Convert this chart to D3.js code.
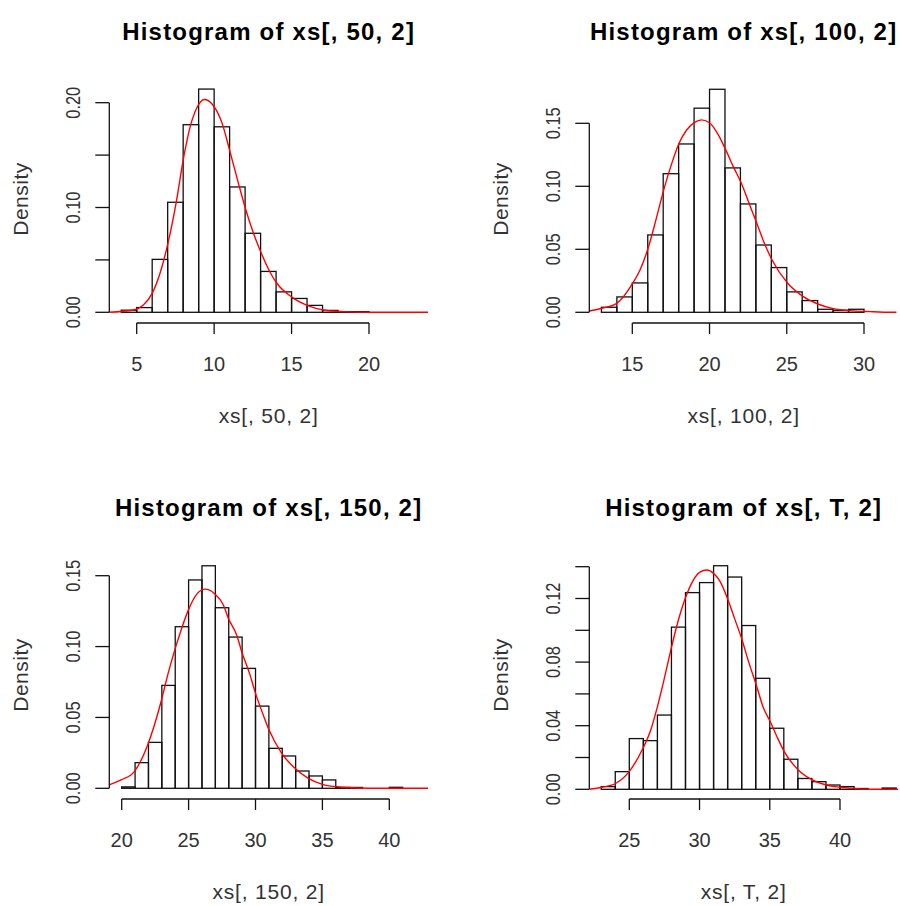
<!DOCTYPE html>
<html>
<head>
<meta charset="utf-8">
<script src="https://d3js.org/d3.v7.min.js"></script>
<style>
  body { margin: 0; background: #fff; }
  svg { display: block; font-family: "Liberation Sans", Arial, sans-serif; }
</style>
</head>
<body>
<svg id="chart" width="900" height="906"></svg>
<script>
// histogram breaks and densities
const breaks50 = [4, 5, 6, 7, 8, 9, 10, 11, 12, 13, 14, 15, 16, 17, 18, 19, 20];
const dens50 = [0.002, 0.0045, 0.0505, 0.105, 0.179, 0.213, 0.177, 0.1196, 0.0754, 0.039, 0.0195, 0.0132, 0.0066, 0.0018, 0.0006, 0.0006];

const breaks100 = [13, 14, 15, 16, 17, 18, 19, 20, 21, 22, 23, 24, 25, 26, 27, 28, 29, 30];
const dens100 = [0.004, 0.0122, 0.0233, 0.0614, 0.110, 0.1336, 0.162, 0.177, 0.1146, 0.086, 0.0534, 0.0355, 0.0162, 0.0093, 0.0024, 0.0016, 0.0024];

const breaks150 = [20, 21, 22, 23, 24, 25, 26, 27, 28, 29, 30, 31, 32, 33, 34, 35, 36, 37, 38, 39, 40, 41];
const dens150 = [0.001, 0.0181, 0.0324, 0.0726, 0.114, 0.147, 0.157, 0.1274, 0.1067, 0.0846, 0.058, 0.0282, 0.0228, 0.0122, 0.0087, 0.0059, 0.0006, 0.0006, 0, 0, 0.0007];

const breaksT = [23, 24, 25, 26, 27, 28, 29, 30, 31, 32, 33, 34, 35, 36, 37, 38, 39, 40, 41, 42, 43, 44];
const densT = [0.0017, 0.0111, 0.0319, 0.0306, 0.0467, 0.102, 0.1237, 0.130, 0.1406, 0.1335, 0.103, 0.0698, 0.0384, 0.0189, 0.0068, 0.0048, 0.0027, 0.0017, 0.0005, 0, 0.0008];

// red density curves [x, density]
const curve50 = [[3.23, 0], [4.78, 0.0022], [5.43, 0.007], [6.0, 0.018], [6.5, 0.037], [7.02, 0.066], [7.54, 0.104],
  [8.04, 0.1485], [8.45, 0.177], [8.88, 0.195], [9.37, 0.203], [9.85, 0.199], [10.5, 0.181], [11.03, 0.153],
  [11.57, 0.123], [12.05, 0.0976], [12.54, 0.0754], [13.05, 0.0563], [13.62, 0.038], [14.05, 0.0277],
  [15.04, 0.0143], [16.05, 0.0064], [17.06, 0.0022], [18.35, 0.0006], [19.97, 0], [23.9, 0]];

const curve100 = [[12.21, 0.001], [12.97, 0.003], [13.99, 0.0071], [15.0, 0.0225], [15.5, 0.0336], [16.02, 0.0508],
  [16.53, 0.0733], [17.03, 0.097], [17.55, 0.118], [18.02, 0.134], [18.52, 0.1447], [19.01, 0.1505], [19.49, 0.1527],
  [20.03, 0.150], [20.57, 0.1408], [21.05, 0.1289], [21.54, 0.1156], [22.06, 0.1024], [22.56, 0.0865], [23.06, 0.0706],
  [23.55, 0.0548], [24.05, 0.0415], [25.06, 0.023], [26.07, 0.0124], [27.05, 0.0064], [28.02, 0.0029], [29.1, 0.0013],
  [30.4, 0.0005], [31.8, 0], [32.1, 0]];

const curve150 = [[19.07, 0.0024], [19.95, 0.0059], [20.94, 0.0118], [21.94, 0.0306], [22.94, 0.0611], [23.44, 0.080],
  [23.93, 0.0964], [24.48, 0.1128], [24.98, 0.1257], [25.6, 0.1368], [26.23, 0.1405], [26.92, 0.1375], [27.6, 0.1293],
  [27.97, 0.1199], [28.6, 0.108], [28.97, 0.0964], [29.59, 0.080], [29.96, 0.0682], [30.58, 0.0517], [30.96, 0.0423],
  [31.96, 0.0247], [32.95, 0.0141], [33.95, 0.007], [35.0, 0.0028], [36.56, 0.0007], [38.5, 0], [42.9, 0]];

const curveT = [[22.17, 0], [23.05, 0.0013], [24.05, 0.0038], [24.99, 0.0111], [25.97, 0.0258], [26.49, 0.0363],
  [26.97, 0.0509], [27.44, 0.0677], [27.93, 0.0866], [28.46, 0.1054], [28.98, 0.120], [29.5, 0.1306], [30.0, 0.1364],
  [30.53, 0.1379], [31.0, 0.1358], [31.47, 0.1306], [31.99, 0.120], [32.49, 0.1075], [32.99, 0.095], [33.49, 0.0803],
  [34.04, 0.0656], [34.56, 0.0509], [35.04, 0.0425], [35.51, 0.0331], [36.03, 0.0237], [37.03, 0.0122], [38.03, 0.0059],
  [39.02, 0.0027], [40.02, 0.0013], [41.45, 0.0002], [42.5, 0], [44.3, 0]];

// axis ticks and labels
const xTicks50 = [5, 10, 15, 20];
const xTicks100 = [15, 20, 25, 30];
const xTicks150 = [20, 25, 30, 35, 40];
const xTicksT = [25, 30, 35, 40];
const yTicks50 = [0, 0.05, 0.10, 0.15, 0.20];
const yLabels50 = ['0.00', '', '0.10', '', '0.20'];
const yTicks100 = [0, 0.05, 0.10, 0.15];
const yLabels100 = ['0.00', '0.05', '0.10', '0.15'];
const yTicks150 = [0, 0.05, 0.10, 0.15];
const yLabels150 = ['0.00', '0.05', '0.10', '0.15'];
const yTicksT = [0, 0.02, 0.04, 0.06, 0.08, 0.10, 0.12, 0.14];
const yLabelsT = ['0.00', '', '0.04', '', '0.08', '', '0.12', ''];

const titles = ['Histogram of xs[, 50, 2]', 'Histogram of xs[, 100, 2]', 'Histogram of xs[, 150, 2]', 'Histogram of xs[, T, 2]'];
const xLabels = ['xs[, 50, 2]', 'xs[, 100, 2]', 'xs[, 150, 2]', 'xs[, T, 2]'];

// pixel frame of each panel (tick anchors measured on the reference)
const panels = [
  { breaks: breaks50, dens: dens50, curve: curve50, xTicks: xTicks50, yTicks: yTicks50, yLabels: yLabels50,
    xr: [136.7, 369], yd: [0, 0.20], yr: [312.3, 102.7], left: 109.3, right: 428, dy: 0 },
  { breaks: breaks100, dens: dens100, curve: curve100, xTicks: xTicks100, yTicks: yTicks100, yLabels: yLabels100,
    xr: [632.3, 864], yd: [0, 0.15], yr: [312.3, 123.3], left: 589.3, right: 898, dy: 0 },
  { breaks: breaks150, dens: dens150, curve: curve150, xTicks: xTicks150, yTicks: yTicks150, yLabels: yLabels150,
    xr: [121.7, 389.3], yd: [0, 0.15], yr: [788.3, 575.7], left: 109.3, right: 428, dy: 476 },
  { breaks: breaksT, dens: densT, curve: curveT, xTicks: xTicksT, yTicks: yTicksT, yLabels: yLabelsT,
    xr: [629.3, 840], yd: [0, 0.14], yr: [789.3, 566.7], left: 589.3, right: 898, dy: 476 }
];

const svg = d3.select('#chart');

panels.forEach((p, i) => {
  const g = svg.append('g');
  const x = d3.scaleLinear()
    .domain([p.xTicks[0], p.xTicks[p.xTicks.length - 1]])
    .range(p.xr);
  const y = d3.scaleLinear().domain(p.yd).range(p.yr);

  const axisY = 323 + p.dy;
  const cx = (p.left + p.right) / 2;

  // clip to plot region
  const clipId = 'clip' + i;
  svg.append('clipPath').attr('id', clipId)
    .append('rect')
    .attr('x', p.left).attr('y', p.dy)
    .attr('width', p.right - p.left).attr('height', axisY - 2 - p.dy);

  // bars
  const bins = p.dens.map((d, k) => ({ x0: p.breaks[k], x1: p.breaks[k + 1], d }));
  g.append('g')
    .selectAll('rect')
    .data(bins)
    .join('rect')
    .attr('x', d => x(d.x0))
    .attr('y', d => y(d.d))
    .attr('width', d => x(d.x1) - x(d.x0))
    .attr('height', d => y(0) - y(d.d))
    .attr('fill', 'none')
    .attr('stroke', '#111')
    .attr('stroke-width', 1.3);

  // density curve
  const line = d3.line().x(d => x(d[0])).y(d => y(d[1])).curve(d3.curveMonotoneX);
  g.append('path')
    .datum(p.curve)
    .attr('clip-path', `url(#${clipId})`)
    .attr('d', line)
    .attr('fill', 'none')
    .attr('stroke', '#ff0000')
    .attr('stroke-width', 1.4);

  // x axis
  const xa = g.append('g').attr('stroke', '#111').attr('stroke-width', 1.3);
  xa.append('line')
    .attr('x1', x(p.xTicks[0])).attr('x2', x(p.xTicks[p.xTicks.length - 1]))
    .attr('y1', axisY).attr('y2', axisY);
  xa.selectAll('.tick')
    .data(p.xTicks)
    .join('line')
    .attr('x1', d => x(d)).attr('x2', d => x(d))
    .attr('y1', axisY).attr('y2', axisY + 11);
  g.append('g')
    .selectAll('text')
    .data(p.xTicks)
    .join('text')
    .attr('x', d => x(d))
    .attr('y', 370.5 + p.dy)
    .attr('text-anchor', 'middle')
    .attr('font-size', 20)
    .attr('fill', '#333')
    .text(d => d);

  // y axis
  const ya = g.append('g').attr('stroke', '#111').attr('stroke-width', 1.3);
  ya.append('line')
    .attr('x1', p.left).attr('x2', p.left)
    .attr('y1', y(p.yTicks[0])).attr('y2', y(p.yTicks[p.yTicks.length - 1]));
  ya.selectAll('.tick')
    .data(p.yTicks)
    .join('line')
    .attr('x1', p.left - 14).attr('x2', p.left)
    .attr('y1', d => y(d)).attr('y2', d => y(d));
  g.append('g')
    .selectAll('text')
    .data(p.yTicks.map((t, k) => ({ t, label: p.yLabels[k] })).filter(d => d.label))
    .join('text')
    .attr('transform', d => `translate(${p.left - 29},${y(d.t)}) rotate(-90) scale(0.82,1)`)
    .attr('text-anchor', 'middle')
    .attr('font-size', 20)
    .attr('fill', '#333')
    .text(d => d.label);

  // titles and axis labels
  g.append('text')
    .attr('x', cx).attr('y', 40 + p.dy)
    .attr('text-anchor', 'middle')
    .attr('font-size', 24)
    .attr('font-weight', 'bold')
    .attr('letter-spacing', 1.2)
    .attr('fill', '#000')
    .text(titles[i]);

  g.append('text')
    .attr('x', cx).attr('y', 422.5 + p.dy)
    .attr('text-anchor', 'middle')
    .attr('font-size', 21)
    .attr('letter-spacing', 0.8)
    .attr('fill', '#333')
    .text(xLabels[i]);

  g.append('text')
    .attr('transform', `translate(${p.left - 81},${199 + p.dy}) rotate(-90)`)
    .attr('text-anchor', 'middle')
    .attr('font-size', 21)
    .attr('letter-spacing', 0.5)
    .attr('fill', '#333')
    .text('Density');
});
</script>
</body>
</html>
